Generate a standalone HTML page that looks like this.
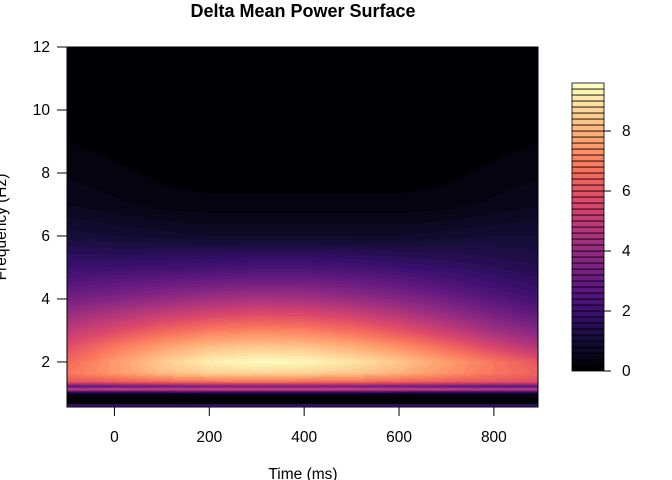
<!DOCTYPE html>
<html><head><meta charset="utf-8">
<style>
html,body{margin:0;padding:0;background:#fff;}
#wrap{position:relative;width:672px;height:480px;overflow:hidden;font-family:"Liberation Sans",Arial,sans-serif;}
canvas{position:absolute;left:67px;top:47px;}
svg{position:absolute;left:0;top:0;}
text{font-family:"Liberation Sans",Arial,sans-serif;fill:#000;}
</style></head>
<body>
<div id="wrap">
<canvas id="cv" width="471" height="360"></canvas>
<svg id="sv" width="672" height="480"></svg>
</div>
<script>
const times = [-100,0,100,200,300,400,500,600,700,800,900];
const freqs = [0.55,0.6,0.7,0.98,1.05,1.13,1.22,1.37,1.65,2.0,2.5,3.0,3.5,4.0,4.5,5.0,6.0,7.0,8.0,9.0,10,12];
const power = [
 [2.5,2.5,2.5,2.5,2.5,2.5,2.5,2.5,2.5,2.5,2.5],
 [2.5,2.5,2.5,2.5,2.5,2.5,2.5,2.5,2.5,2.5,2.5],
 [0.1,0.1,0.1,0.1,0.1,0.1,0.1,0.1,0.1,0.1,0.1],
 [0.3,0.3,0.3,0.3,0.3,0.3,0.3,0.3,0.3,0.3,0.3],
 [2.0,2.0,2.1,2.2,2.2,2.2,2.2,2.1,2.0,2.0,1.9],
 [5.3,5.4,5.5,5.6,5.6,5.6,5.6,5.5,5.4,5.3,5.2],
 [2.6,2.8,3.0,3.2,3.3,3.3,3.2,3.0,2.8,2.6,2.5],
 [6.0,6.2,6.5,6.7,6.8,6.7,6.6,6.4,6.2,6.0,5.8],
 [6.8,7.5,8.2,8.6,8.7,8.6,8.4,8.0,7.4,6.8,6.3],
 [6.5,7.5,8.5,9.2,9.5,9.4,9.0,8.4,7.6,6.8,6.0],
 [5.8,6.8,7.6,8.2,8.4,8.3,7.9,7.3,6.5,5.5,4.6],
 [5.0,5.7,6.4,6.9,7.1,7.0,6.6,6.0,5.2,4.3,3.6],
 [4.2,4.7,5.2,5.6,5.8,5.7,5.4,4.8,4.1,3.4,2.8],
 [3.3,3.6,4.0,4.3,4.5,4.4,4.1,3.7,3.2,2.6,2.1],
 [2.6,2.8,3.0,3.2,3.3,3.3,3.1,2.8,2.4,2.0,1.7],
 [2.0,2.0,2.1,2.2,2.3,2.3,2.2,2.0,1.8,1.6,1.4],
 [1.1,1.0,0.9,0.8,0.8,0.8,0.8,0.8,0.9,1.0,1.0],
 [0.6,0.45,0.3,0.25,0.25,0.25,0.25,0.25,0.3,0.45,0.6],
 [0.35,0.25,0.15,0.1,0.1,0.1,0.1,0.1,0.15,0.25,0.35],
 [0.2,0.12,0.08,0.06,0.06,0.06,0.06,0.06,0.08,0.12,0.2],
 [0.05,0.05,0.05,0.05,0.05,0.05,0.05,0.05,0.05,0.05,0.05],
 [0.02,0.02,0.02,0.02,0.02,0.02,0.02,0.02,0.02,0.02,0.02]
];
const xTicks = [0,200,400,600,800];
const yTicks = [2,4,6,8,10,12];
const legendTicks = [0,2,4,6,8];
const levelStep = 0.2, levelMax = 9.6;

const X0=67,X1=538,Y0=47,Y1=407, tMin=-100,tMax=893, fMin=0.57,fMax=12;
const xs = t => X0+(t-tMin)/(tMax-tMin)*(X1-X0);
const ys = f => Y1-(f-fMin)/(fMax-fMin)*(Y1-Y0);
const LY0=371, LY1=83;
const ly = v => LY0-(v/levelMax)*(LY0-LY1);

const magma=[[0,0,4],[20,14,54],[59,15,112],[100,26,128],[140,41,129],[183,55,121],[222,73,104],[247,112,92],[254,159,109],[254,207,146],[252,253,191]];
function col(p){p=Math.max(0,Math.min(1,p));const s=p*10,i=Math.min(9,Math.floor(s)),r=s-i;const a=magma[i],b=magma[i+1];return [0,1,2].map(k=>Math.round(a[k]+(b[k]-a[k])*r));}
const nLev=Math.round(levelMax/levelStep);
function levColor(v){let k=Math.floor(v/levelStep);k=Math.max(0,Math.min(nLev-1,k));return col(k/(nLev-1));}
function seg(arr,v){for(let i=0;i<arr.length-1;i++){if(v<=arr[i+1])return [i,(v-arr[i])/(arr[i+1]-arr[i])];}return [arr.length-2,1];}
function valAt(t,f){const [i,a]=seg(times,t),[j,b]=seg(freqs,Math.max(freqs[0],f));const bb=Math.max(0,Math.min(1,b)),aa=Math.max(0,Math.min(1,a));
 const v00=power[j][i],v01=power[j][i+1],v10=power[j+1][i],v11=power[j+1][i+1];
 return (v00*(1-aa)+v01*aa)*(1-bb)+(v10*(1-aa)+v11*aa)*bb;}

const cv=document.getElementById('cv'),ctx=cv.getContext('2d');
const W=cv.width,H=cv.height,img=ctx.createImageData(W,H);
for(let py=0;py<H;py++){const f=fMax-(py+0.5)/H*(fMax-fMin);
 for(let px=0;px<W;px++){const t=tMin+(px+0.5)/W*(tMax-tMin);const c=levColor(valAt(t,f));const o=(py*W+px)*4;img.data[o]=c[0];img.data[o+1]=c[1];img.data[o+2]=c[2];img.data[o+3]=255;}}
ctx.putImageData(img,0,0);

const NS='http://www.w3.org/2000/svg',sv=document.getElementById('sv');
function mk(tag,attrs,txt){const e=document.createElementNS(NS,tag);for(const k in attrs)e.setAttribute(k,attrs[k]);if(txt!==undefined)e.textContent=txt;sv.appendChild(e);return e;}
let e;
e=mk('rect',{x:X0,y:Y0,width:X1-X0,height:Y1-Y0,fill:'none',stroke:'#000','stroke-width':1});


xTicks.forEach(t=>{
 e=mk('line',{x1:xs(t),x2:xs(t),y1:Y1,y2:Y1+9,stroke:'#000'});
 
 
 e=mk('text',{x:xs(t),y:442,'text-anchor':'middle','font-size':15.5},String(t));
 
 
});
yTicks.forEach(f=>{
 e=mk('line',{x1:X0-10,x2:X0,y1:ys(f),y2:ys(f),stroke:'#000'});
 
 
 e=mk('text',{x:50,y:ys(f)+5,'text-anchor':'end','font-size':15.5},String(f));
 
 
});
e=mk('text',{x:303,y:17,'text-anchor':'middle','font-size':18,'font-weight':'bold'},'Delta Mean Power Surface');


e=mk('text',{x:303,y:479,'text-anchor':'middle','font-size':15.5},'Time (ms)');


e=mk('text',{transform:'translate(6,227) rotate(-90)','text-anchor':'middle','font-size':15.5},'Frequency (Hz)');


for(let k=0;k<nLev;k++){const c=col(k/(nLev-1));
 e=mk('rect',{x:572,y:ly((k+1)*levelStep),width:32,height:ly(k*levelStep)-ly((k+1)*levelStep),fill:`rgb(${c})`,stroke:'#000','stroke-width':0.8});
 
 
}
legendTicks.forEach(v=>{
 e=mk('line',{x1:604,x2:611,y1:ly(v),y2:ly(v),stroke:'#000'});
 
 
 e=mk('text',{x:622,y:ly(v)+5,'font-size':15.5},String(v));
 
 
});
</script>
</body></html>
